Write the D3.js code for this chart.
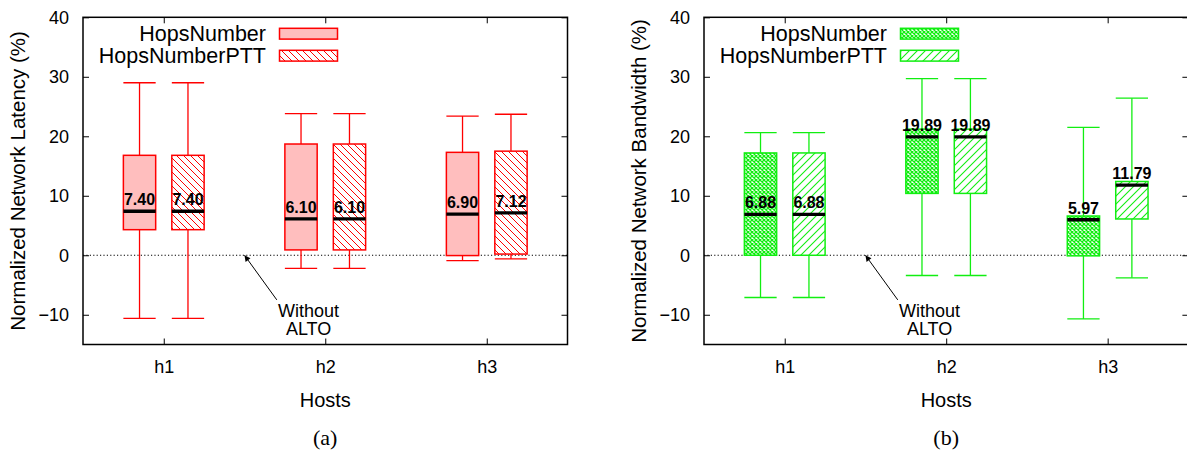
<!DOCTYPE html>
<html>
<head>
<meta charset="utf-8">
<script src="https://cdn.jsdelivr.net/npm/d3@7"></script>
<style>
  html, body { margin: 0; padding: 0; background: #fff; }
  svg { display: block; }
  text { fill: #000; }
</style>
</head>
<body>
<svg id="chart" width="1187" height="454"></svg>
<script>
// Hosts on the x axis and the two compared strategies
const hosts = ["h1", "h2", "h3"];
const seriesNames = ["HopsNumber", "HopsNumberPTT"];
const yTicks = [-10, 0, 10, 20, 30, 40];

// Each host: [whisker low, box low, median, box high, whisker high]  (%)
const latencyHops      = [[-10.6, 4.3, 7.40, 16.8, 29.0], [-2.2, 0.9, 6.10, 18.7, 23.8], [-0.9, -0.05, 6.90, 17.3, 23.4]];
const latencyHopsPTT   = [[-10.6, 4.3, 7.40, 16.8, 29.0], [-2.2, 0.9, 6.10, 18.7, 23.8], [-0.6, 0.2, 7.12, 17.5, 23.7]];
const bandwidthHops    = [[-7.1, 0.0, 6.88, 17.2, 20.6], [-3.4, 10.4, 19.89, 21.2, 29.7], [-10.7, -0.1, 5.97, 6.6, 21.5]];
const bandwidthHopsPTT = [[-7.1, 0.0, 6.88, 17.2, 20.6], [-3.4, 10.4, 19.89, 21.2, 29.7], [-3.8, 6.1, 11.79, 12.4, 26.4]];

const SANS = "'Liberation Sans', Arial, Helvetica, sans-serif";
const SERIF = "'Liberation Serif', 'Times New Roman', serif";

const svg = d3.select("#chart").style("font-family", SANS);
const defs = svg.append("defs");

// Fill patterns
function hatch(id, color, size, path, width, bg) {
  const p = defs.append("pattern").attr("id", id)
    .attr("patternUnits", "userSpaceOnUse").attr("width", size).attr("height", size);
  p.append("rect").attr("width", size).attr("height", size).attr("fill", bg);
  p.append("path").attr("d", path).attr("stroke", color).attr("stroke-width", width).attr("fill", "none");
}
const RED = "#ff0000", GREEN = "#11ee11";
hatch("redBack", RED, 7, "M-1,-1L8,8M-1,6L1,8M6,-1L8,1", 1, "#fff");
hatch("greenFwd", GREEN, 8, "M-1,9L9,-1M-1,1L1,-1M7,9L9,7", 1.1, "#fff");
hatch("greenCross", GREEN, 4, "M0,0L4,4M4,0L0,4", 1.3, "#fff");

defs.append("marker").attr("id", "arrowHead")
  .attr("viewBox", "0 0 10 10").attr("refX", 10).attr("refY", 5)
  .attr("markerUnits", "userSpaceOnUse").attr("markerWidth", 12).attr("markerHeight", 6)
  .attr("orient", "auto")
  .append("path").attr("d", "M0,0L10,5L0,10Z").attr("fill", "#000");

function drawPanel(cfg) {
  const g = svg.append("g");
  const x = d3.scaleLinear().domain([0.5, 3.5]).range([cfg.left, cfg.right]);
  const y = d3.scaleLinear().domain([-15, 40]).range([cfg.bottom, cfg.top]);
  const boxW = x(0.2) - x(0);
  const offsets = [-0.15, 0.15];

  // reference line at zero
  g.append("line")
    .attr("x1", cfg.left).attr("x2", cfg.right).attr("y1", y(0)).attr("y2", y(0))
    .attr("stroke", "#000").attr("stroke-width", 1).attr("stroke-dasharray", "1.2,2.2");

  // axes: ticks point inward on all four sides
  const fs = "18px";
  const left = g.append("g").attr("transform", `translate(${cfg.left},0)`)
    .call(d3.axisLeft(y).tickValues(yTicks).tickSize(-6).tickPadding(14));
  const rightAx = g.append("g").attr("transform", `translate(${cfg.right},0)`)
    .call(d3.axisRight(y).tickValues(yTicks).tickSize(-6).tickFormat(""));
  const bottom = g.append("g").attr("transform", `translate(0,${cfg.bottom})`)
    .call(d3.axisBottom(x).tickValues([1, 2, 3]).tickSize(-6).tickPadding(16).tickFormat(d => hosts[d - 1]));
  const topAx = g.append("g").attr("transform", `translate(0,${cfg.top})`)
    .call(d3.axisTop(x).tickValues([1, 2, 3]).tickSize(-6).tickFormat(""));
  [left, rightAx, bottom, topAx].forEach(a => {
    a.select(".domain").remove();
    a.selectAll(".tick line").attr("stroke", "#000").attr("stroke-width", 1);
    a.selectAll(".tick text").attr("font-family", SANS).attr("font-size", fs).attr("fill", "#000");
  });

  // boxes
  cfg.series.forEach((data, s) => {
    const grp = g.append("g");
    data.forEach((d, i) => {
      const cx = x(i + 1 + offsets[s]);
      const x0 = cx - boxW / 2, x1 = cx + boxW / 2;
      const [wLo, bLo, med, bHi, wHi] = d;
      const line = (xa, ya, xb, yb) => grp.append("line")
        .attr("x1", xa).attr("y1", ya).attr("x2", xb).attr("y2", yb)
        .attr("stroke", cfg.color).attr("stroke-width", 1.3);
      line(cx, y(wHi), cx, y(bHi));
      line(cx, y(bLo), cx, y(wLo));
      line(x0, y(wHi), x1, y(wHi));
      line(x0, y(wLo), x1, y(wLo));
      grp.append("rect")
        .attr("x", x0).attr("y", y(bHi)).attr("width", boxW).attr("height", y(bLo) - y(bHi))
        .attr("fill", cfg.fills[s]).attr("stroke", cfg.color).attr("stroke-width", 1.5);
      grp.append("line")
        .attr("x1", x0).attr("x2", x1).attr("y1", y(med)).attr("y2", y(med))
        .attr("stroke", "#000").attr("stroke-width", 3.3);
      grp.append("text")
        .attr("x", cx).attr("y", y(med) - 6)
        .attr("text-anchor", "middle").attr("font-size", "16px").attr("font-weight", "bold")
        .text(med.toFixed(2));
    });
  });

  // frame
  g.append("rect")
    .attr("x", cfg.left).attr("y", cfg.top)
    .attr("width", cfg.right - cfg.left).attr("height", cfg.bottom - cfg.top)
    .attr("fill", "none").attr("stroke", "#000").attr("stroke-width", 1.5);

  // legend
  seriesNames.forEach((name, s) => {
    const ty = cfg.top + 23.5 + s * 22;
    g.append("text").attr("x", cfg.left + 183).attr("y", ty)
      .attr("text-anchor", "end").attr("font-size", "21.5px").text(name);
    g.append("rect").attr("x", cfg.left + 196.5).attr("y", ty - 12.5)
      .attr("width", 58).attr("height", 10.8)
      .attr("fill", cfg.fills[s]).attr("stroke", cfg.color).attr("stroke-width", 1.5);
  });

  // annotation for the zero line
  g.append("line")
    .attr("x1", x(1.70)).attr("y1", y(-7.5)).attr("x2", x(1.5)).attr("y2", y(0))
    .attr("stroke", "#000").attr("stroke-width", 1).attr("marker-end", "url(#arrowHead)");
  const note = g.append("text").attr("text-anchor", "middle").attr("font-size", "18px");
  note.append("tspan").attr("x", x(1.897)).attr("y", y(-10.3)).text("Without");
  note.append("tspan").attr("x", x(1.897)).attr("dy", 18.4).text("ALTO");

  // axis titles and caption
  g.append("text").attr("x", x(2)).attr("y", 407)
    .attr("text-anchor", "middle").attr("font-size", "20px").text("Hosts");
  g.append("text")
    .attr("transform", `translate(${cfg.left - 58},${(cfg.top + cfg.bottom) / 2}) rotate(-90)`)
    .attr("text-anchor", "middle").attr("font-size", "20.5px").text(cfg.yLabel);
  g.append("text").attr("x", x(2)).attr("y", 445)
    .attr("text-anchor", "middle").attr("font-size", "22px")
    .style("font-family", SERIF).text(cfg.caption);
}

drawPanel({
  left: 83, right: 567.5, top: 17.3, bottom: 344.5,
  yLabel: "Normalized Network Latency (%)",
  color: RED, fills: ["#ffbebe", "url(#redBack)"],
  series: [latencyHops, latencyHopsPTT], caption: "(a)"
});
drawPanel({
  left: 704, right: 1188.4, top: 17.3, bottom: 344.5,
  yLabel: "Normalized Network Bandwidth (%)",
  color: GREEN, fills: ["url(#greenCross)", "url(#greenFwd)"],
  series: [bandwidthHops, bandwidthHopsPTT], caption: "(b)"
});
</script>
</body>
</html>
